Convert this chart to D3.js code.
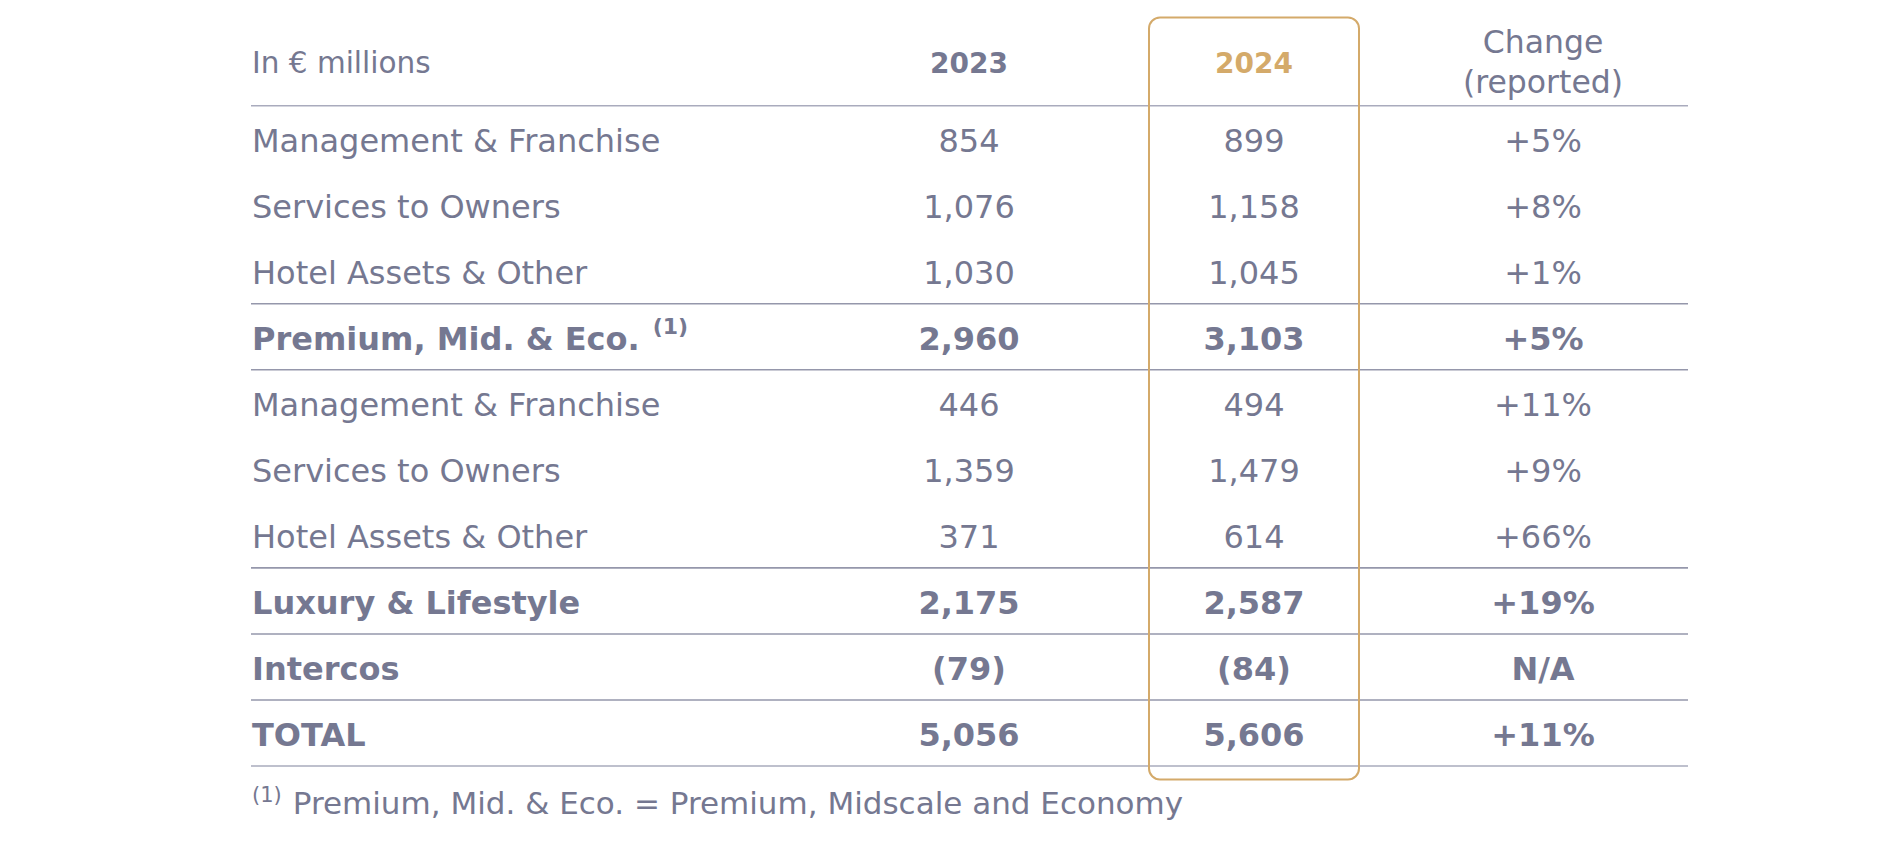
<!DOCTYPE html>
<html>
<head>
<meta charset="utf-8">
<script src="https://cdn.jsdelivr.net/npm/d3@7"></script>
<style>
  html, body { margin: 0; padding: 0; background: #ffffff; }
  svg { display: block; }
  text { font-family: "DejaVu Sans", Verdana, sans-serif; }
</style>
</head>
<body>
<svg id="chart" width="1904" height="852"></svg>
<script>
// ---- data ----
const unitLabel = "In € millions";
const columnHeaders = ["2023", "2024"];
const changeHeader = ["Change", "(reported)"];
const rowLabels = [
  "Management & Franchise", "Services to Owners", "Hotel Assets & Other",
  "Premium, Mid. & Eco.",
  "Management & Franchise", "Services to Owners", "Hotel Assets & Other",
  "Luxury & Lifestyle", "Intercos", "TOTAL"
];
const rowKinds = ["item", "item", "item", "subtotal", "item", "item", "item", "subtotal", "subtotal", "total"];
const rowNotes = ["", "", "", "(1)", "", "", "", "", "", ""];
const values2023 = [854, 1076, 1030, 2960, 446, 1359, 371, 2175, -79, 5056];
const values2024 = [899, 1158, 1045, 3103, 494, 1479, 614, 2587, -84, 5606];
const changes = ["+5%", "+8%", "+1%", "+5%", "+11%", "+9%", "+66%", "+19%", "N/A", "+11%"];
const footnoteMark = "(1)";
const footnoteText = "Premium, Mid. & Eco. = Premium, Midscale and Economy";

// ---- layout ----
const svg = d3.select("#chart");
const W = 1904, H = 852;
svg.append("rect").attr("width", W).attr("height", H).attr("fill", "#fff");

const textColor = "#757891";
const gold = "#d4aa6a";
const lineColor = "#9597ab";
const left = 252, right = 1688;

const y = d3.scaleLinear().domain([0, rowLabels.length]).range([105.7, 766]);
const x = d3.scaleOrdinal().domain(["2023", "2024", "change"]).range([969, 1254, 1543]);

const fmt = v => v < 0 ? "(" + d3.format(",")(-v) + ")" : d3.format(",")(v);
const isBold = k => k !== "item";

// horizontal rules
const ruleIdx = [0];
rowKinds.forEach((k, i) => {
  if (isBold(k)) { ruleIdx.push(i); ruleIdx.push(i + 1); }
});
const rules = Array.from(new Set(ruleIdx)).sort((a, b) => a - b);
svg.append("g").selectAll("line").data(rules).join("line")
  .attr("x1", left - 1).attr("x2", right)
  .attr("y1", d => y(d)).attr("y2", d => y(d))
  .attr("stroke", d => (d === 0 || d === rowLabels.length) ? "#a9abbd" : lineColor)
  .attr("stroke-width", 1.6);

// header
svg.append("text").attr("x", left).attr("y", 72.5)
  .attr("font-size", 29.5).attr("fill", textColor).text(unitLabel);
svg.append("g").selectAll("text").data(columnHeaders).join("text")
  .attr("x", d => x(d)).attr("y", 72.5).attr("text-anchor", "middle")
  .attr("font-size", 28).attr("font-weight", "bold")
  .attr("fill", (d, i) => i === 1 ? gold : textColor).text(d => d);
svg.append("g").selectAll("text").data(changeHeader).join("text")
  .attr("x", x("change")).attr("y", (d, i) => 53 + i * 40).attr("text-anchor", "middle")
  .attr("font-size", 31.5).attr("fill", textColor).text(d => d);

// rows
const rows = svg.append("g").selectAll("g").data(rowLabels.map((l, i) => ({
  label: l, kind: rowKinds[i], note: rowNotes[i],
  v23: values2023[i], v24: values2024[i], ch: changes[i], i
}))).join("g")
  .attr("transform", d => `translate(0,${y(d.i) + 46})`)
  .attr("fill", textColor)
  .attr("font-size", 32)
  .attr("font-weight", d => isBold(d.kind) ? "bold" : "normal");

const lab = rows.append("text").attr("x", left);
lab.append("tspan").text(d => d.label);
lab.filter(d => d.note).append("tspan")
  .attr("dx", 13).attr("dy", -16).attr("font-size", 22).text(d => d.note);

rows.append("text").attr("x", x("2023")).attr("text-anchor", "middle").text(d => fmt(d.v23));
rows.append("text").attr("x", x("2024")).attr("text-anchor", "middle").text(d => fmt(d.v24));
rows.append("text").attr("x", x("change")).attr("text-anchor", "middle").text(d => d.ch);

// highlight box for 2024
svg.append("rect")
  .attr("x", x("2024") - 105).attr("y", 17.5)
  .attr("width", 210).attr("height", 762)
  .attr("rx", 11).attr("ry", 11)
  .attr("fill", "none").attr("stroke", gold).attr("stroke-width", 2);

// footnote
const fn = svg.append("text").attr("x", left).attr("y", 814).attr("fill", textColor);
fn.append("tspan").attr("font-size", 21).attr("dy", -12).text(footnoteMark);
fn.append("tspan").attr("font-size", 31).attr("dx", 11).attr("dy", 12).text(footnoteText);
</script>
</body>
</html>
